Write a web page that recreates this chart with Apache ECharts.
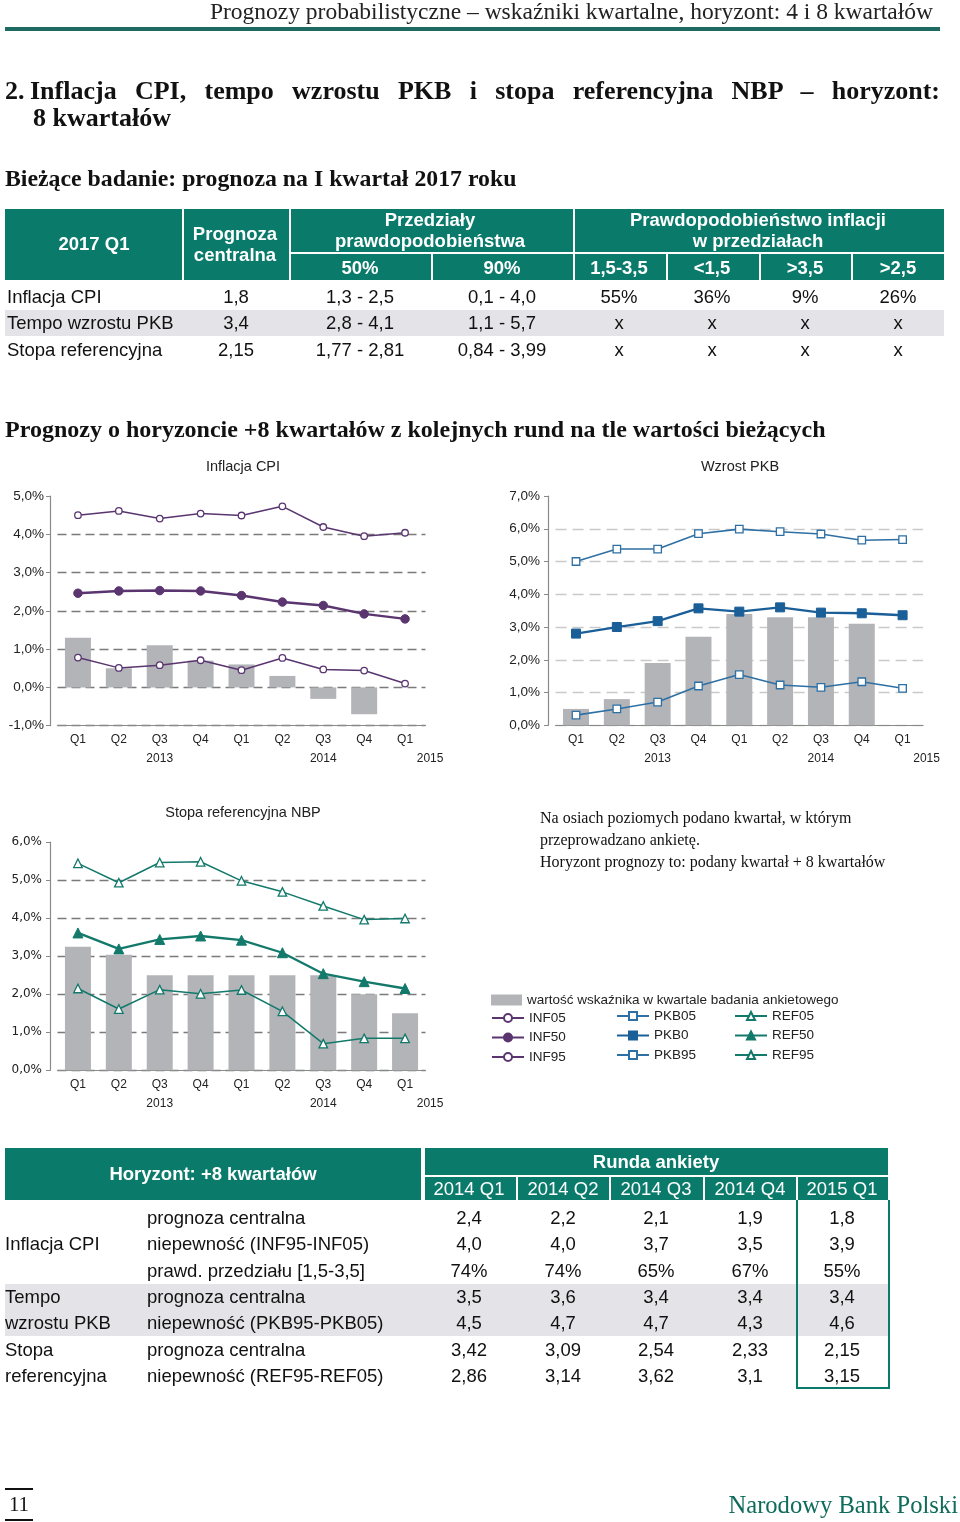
<!DOCTYPE html>
<html><head><meta charset="utf-8">
<script src="https://cdn.jsdelivr.net/npm/echarts@6/dist/echarts.min.js"></script>
<style>
body{margin:0;width:960px;height:1522px;position:relative;background:#fff;overflow:hidden;font-family:"Liberation Sans",Arial,sans-serif;color:#111}
#chart{position:absolute;left:0;top:0;width:960px;height:1522px;z-index:1}
.t{position:absolute;white-space:nowrap;z-index:2;line-height:1}
.box{position:absolute;z-index:0}
</style></head>
<body>
<div id="chart"></div>
<div id="layer"></div>
<script>
// ---------- data ----------
const quarters = ['Q1','Q2','Q3','Q4','Q1','Q2','Q3','Q4','Q1'];
const years = ['','','2013','','','','2014','','2015'];
const BAR = 'wartość wskaźnika w kwartale badania ankietowego';

const infBars = [1.3, 0.5, 1.1, 0.7, 0.6, 0.3, -0.3, -0.7, null];
const inf95 = [4.50, 4.61, 4.41, 4.54, 4.49, 4.73, 4.19, 3.95, 4.04];
const inf50 = [2.46, 2.52, 2.53, 2.52, 2.40, 2.23, 2.14, 1.92, 1.79];
const inf05 = [0.78, 0.51, 0.58, 0.71, 0.45, 0.77, 0.47, 0.44, 0.10];

const gdpBars = [0.5, 0.8, 1.9, 2.7, 3.4, 3.3, 3.3, 3.1, null];
const pkb95 = [5.00, 5.38, 5.38, 5.85, 5.99, 5.91, 5.84, 5.65, 5.67];
const pkb50 = [2.80, 3.00, 3.18, 3.57, 3.47, 3.60, 3.44, 3.42, 3.36];
const pkb05 = [0.31, 0.50, 0.71, 1.20, 1.55, 1.23, 1.16, 1.33, 1.13];

const refBars = [3.25, 3.04, 2.5, 2.5, 2.5, 2.5, 2.5, 2.0, 1.5];
const ref95 = [5.44, 4.93, 5.46, 5.48, 4.98, 4.69, 4.32, 3.96, 3.99];
const ref50 = [3.61, 3.19, 3.44, 3.53, 3.42, 3.09, 2.54, 2.33, 2.15];
const ref05 = [2.15, 1.61, 2.12, 2.01, 2.11, 1.55, 0.70, 0.84, 0.84];

// top table
const t1Rows = ['Inflacja CPI', 'Tempo wzrostu PKB', 'Stopa referencyjna'];
const t1Central = ['1,8', '3,4', '2,15'];
const t1P50 = ['1,3 - 2,5', '2,8 - 4,1', '1,77 - 2,81'];
const t1P90 = ['0,1 - 4,0', '1,1 - 5,7', '0,84 - 3,99'];
const t1ProbHeads = ['1,5-3,5', '<1,5', '>3,5', '>2,5'];
const t1Prob = [['55%','36%','9%','26%'], ['x','x','x','x'], ['x','x','x','x']];

// bottom table
const rounds = ['2014 Q1','2014 Q2','2014 Q3','2014 Q4','2015 Q1'];
const t2Group = ['', 'Inflacja CPI', '', 'Tempo', 'wzrostu PKB', 'Stopa', 'referencyjna'];
const t2Desc = ['prognoza centralna','niepewność (INF95-INF05)','prawd. przedziału [1,5-3,5]',
  'prognoza centralna','niepewność (PKB95-PKB05)','prognoza centralna','niepewność (REF95-REF05)'];
const t2Vals = [
  ['2,4','2,2','2,1','1,9','1,8'],
  ['4,0','4,0','3,7','3,5','3,9'],
  ['74%','74%','65%','67%','55%'],
  ['3,5','3,6','3,4','3,4','3,4'],
  ['4,5','4,7','4,7','4,3','4,6'],
  ['3,42','3,09','2,54','2,33','2,15'],
  ['2,86','3,14','3,62','3,1','3,15']
];

// ---------- HTML text & tables ----------
const G = '#0a7a6b';
const layer = document.getElementById('layer');
function txt(s, x, y, css, align) {
  const d = document.createElement('div');
  d.className = 't';
  d.textContent = s;
  d.style.cssText += css || '';
  d.style.left = x + 'px'; d.style.top = y + 'px';
  const tx = align === 'c' ? '-50%' : (align === 'r' ? '-100%' : '0');
  d.style.transform = 'translate(' + tx + ',-50%)';
  layer.appendChild(d);
  return d;
}
function box(x, y, w, h, css) {
  const d = document.createElement('div');
  d.className = 'box';
  d.style.cssText = 'left:' + x + 'px;top:' + y + 'px;width:' + w + 'px;height:' + h + 'px;' + css;
  layer.appendChild(d);
}
const SERIF = 'font-family:"Liberation Serif","DejaVu Serif",serif;';

// page header
txt('Prognozy probabilistyczne – wskaźniki kwartalne, horyzont: 4 i 8 kwartałów', 933, 12, SERIF + 'font-size:23.5px;color:#222;', 'r');
box(5, 27, 935, 4, 'background:#1d6b60;');

// heading
txt('2.', 5, 91, SERIF + 'font-size:26px;font-weight:bold;color:#111;');
(function(){
  const d = document.createElement('div');
  d.className = 't';
  d.style.cssText = SERIF + 'font-size:26px;font-weight:bold;color:#111;left:30px;top:78px;width:910px;text-align:justify;text-align-last:justify;white-space:normal;';
  d.textContent = 'Inflacja CPI, tempo wzrostu PKB i stopa referencyjna NBP – horyzont:';
  layer.appendChild(d);
})();
txt('8 kwartałów', 33, 118, SERIF + 'font-size:26px;font-weight:bold;color:#111;');
txt('Bieżące badanie: prognoza na I kwartał 2017 roku', 5, 179, SERIF + 'font-size:23.8px;font-weight:bold;color:#111;');

// top table
box(5, 209, 939, 71, 'background:' + G + ';');
[182, 289, 573].forEach(x => box(x, 209, 2, 71, 'background:#fff;'));
[431, 666, 759, 851].forEach(x => box(x, 253, 2, 27, 'background:#fff;'));
box(290, 252, 654, 2, 'background:#fff;');
const HW = 'color:#fff;font-weight:bold;font-size:18.5px;';
txt('2017 Q1', 94, 244, HW, 'c');
txt('Prognoza', 235, 234, HW, 'c');
txt('centralna', 235, 255, HW, 'c');
txt('Przedziały', 430, 220, HW, 'c');
txt('prawdopodobieństwa', 430, 241, HW, 'c');
txt('Prawdopodobieństwo inflacji', 758, 220, HW, 'c');
txt('w przedziałach', 758, 241, HW, 'c');
txt('50%', 360, 268, HW, 'c');
txt('90%', 502, 268, HW, 'c');
const probX = [619, 712, 805, 898];
t1ProbHeads.forEach((s, i) => txt(s, probX[i], 268, HW, 'c'));
box(5, 310, 939, 26, 'background:#e4e4e8;');
const rowY1 = [297, 323, 350];
const BW = 'color:#111;font-size:18.5px;';
t1Rows.forEach((s, i) => {
  txt(s, 7, rowY1[i], BW);
  txt(t1Central[i], 236, rowY1[i], BW, 'c');
  txt(t1P50[i], 360, rowY1[i], BW, 'c');
  txt(t1P90[i], 502, rowY1[i], BW, 'c');
  t1Prob[i].forEach((v, j) => txt(v, probX[j], rowY1[i], BW, 'c'));
});

// section heading
txt('Prognozy o horyzoncie +8 kwartałów z kolejnych rund na tle wartości bieżących', 5, 429, SERIF + 'font-size:24px;font-weight:bold;color:#111;');

// note
const NOTE = SERIF + 'font-size:16px;color:#111;';
txt('Na osiach poziomych podano kwartał, w którym', 540, 818, NOTE);
txt('przeprowadzano ankietę.', 540, 840, NOTE);
txt('Horyzont prognozy to: podany kwartał + 8 kwartałów', 540, 862, NOTE);

// bottom table
box(5, 1148, 416, 52, 'background:' + G + ';');
box(425, 1148, 463, 52, 'background:' + G + ';');
box(425, 1175, 463, 2, 'background:#fff;');
[516, 609, 703, 796].forEach(x => box(x, 1177, 2, 23, 'background:#fff;'));
txt('Horyzont: +8 kwartałów', 213, 1174, HW + 'font-size:18.5px;', 'c');
txt('Runda ankiety', 656, 1162, HW + 'font-size:18.5px;', 'c');
const colX = [469, 563, 656, 750, 842];
rounds.forEach((s, i) => txt(s, colX[i], 1189, 'color:#fff;font-size:18.5px;', 'c'));
box(5, 1284, 883, 52, 'background:#e4e4e8;');
box(796, 1200, 90, 187, 'border:2px solid ' + G + ';border-top:none;');
const rowY2 = [1218, 1244, 1271, 1297, 1323, 1350, 1376];
const BW2 = 'color:#111;font-size:18.5px;';
rowY2.forEach((y, i) => {
  if (t2Group[i]) txt(t2Group[i], 5, y, BW2);
  txt(t2Desc[i], 147, y, BW2);
  t2Vals[i].forEach((v, j) => txt(v, colX[j], y, BW2, 'c'));
});

// footer
box(5, 1488, 28, 1.5, 'background:#111;');
box(5, 1519, 28, 1.5, 'background:#111;');
txt('11', 19, 1504, SERIF + 'font-size:21px;color:#111;', 'c');
txt('Narodowy Bank Polski', 958, 1505, SERIF + 'font-size:24.6px;color:#0f6b5a;', 'r');

// ---------- charts ----------
const FONT = '"Liberation Sans", Arial, sans-serif';
const fmt = v => v.toFixed(1).replace('.', ',') + '%';
const PUR = '#5a3570', BLU = '#1b5f98', BLU2 = '#2e70a4', TEA = '#12796b';
const BARC = '#b2b4b8';

const grids = [
  {left: 57.5, top: 496, width: 368, height: 229.7},
  {left: 555.6, top: 496, width: 367.4, height: 229.3},
  {left: 57.5, top: 842, width: 368, height: 228.3}
];
const yearShift = [25, 24, 25];
const xAxes = [], yAxes = [];
const yCfg = [
  {min: -1, max: 5, off: 7.5, split: '#7a7a7a', dash: [9, 5], font: FONT, fs: 13.5, margin: 6},
  {min: 0, max: 7, off: 7.6, split: '#c9c9c9', dash: [11, 6], font: FONT, fs: 13.5, margin: 8},
  {min: 0, max: 6, off: 7.5, split: '#7a7a7a', dash: [9, 5], font: '"DejaVu Sans", sans-serif', fs: 12, margin: 8}
];
grids.forEach((g, i) => {
  xAxes.push({
    type: 'category', gridIndex: i, data: quarters, boundaryGap: true,
    axisLine: {onZero: false, lineStyle: {color: '#8a8a8a', width: 1.2}},
    axisTick: {show: false},
    axisLabel: {interval: 0, margin: 8, fontFamily: FONT, fontSize: 12, color: '#222'},
    splitLine: {show: false}
  });
  xAxes.push({
    type: 'category', gridIndex: i, data: years, position: 'bottom', offset: 19,
    axisLine: {show: false}, axisTick: {show: false},
    axisLabel: {
      interval: 0, margin: 8, fontFamily: FONT, fontSize: 12, color: '#222',
      formatter: (v, idx) => idx === 8 ? '{s|' + v + '}' : v,
      rich: {s: {fontFamily: FONT, fontSize: 12, color: '#222', padding: [0, 0, 0, yearShift[i] * 2]}}
    }
  });
  const c = yCfg[i];
  yAxes.push({
    type: 'value', gridIndex: i, min: c.min, max: c.max, interval: 1, offset: c.off,
    axisLine: {show: true, lineStyle: {color: '#8a8a8a', width: 1.2}},
    axisTick: {show: true, length: 4, lineStyle: {color: '#8a8a8a'}},
    axisLabel: {formatter: fmt, fontFamily: c.font, fontSize: c.fs, color: '#222', margin: c.margin},
    splitLine: {show: true, showMaxLine: false, lineStyle: {color: c.split, type: c.dash, width: 1.3}}
  });
});

function bar(data, i) {
  return {name: BAR, type: 'bar', xAxisIndex: 2 * i, yAxisIndex: i, data: data,
    barWidth: 26, itemStyle: {color: BARC}, z: 1};
}
function line(name, data, i, color, symbol, size, filled, width) {
  return {name: name, type: 'line', xAxisIndex: 2 * i, yAxisIndex: i, data: data,
    symbol: symbol, symbolSize: size, showAllSymbol: true,
    lineStyle: {color: color, width: width},
    itemStyle: filled ? {color: color, borderColor: color, borderWidth: 1}
                      : {color: '#fff', borderColor: color, borderWidth: 1.3},
    z: 3};
}

const series = [
  bar(infBars, 0),
  line('INF95', inf95, 0, PUR, 'circle', 6.5, false, 1.5),
  line('INF50', inf50, 0, PUR, 'circle', 8.5, true, 2.4),
  line('INF05', inf05, 0, PUR, 'circle', 6.5, false, 1.5),
  bar(gdpBars, 1),
  line('PKB95', pkb95, 1, BLU2, 'rect', 7.5, false, 1.6),
  line('PKB0', pkb50, 1, BLU, 'rect', 9, true, 2.3),
  line('PKB05', pkb05, 1, BLU2, 'rect', 7.5, false, 1.6),
  bar(refBars, 2),
  line('REF95', ref95, 2, TEA, 'triangle', 8.5, false, 1.5),
  line('REF50', ref50, 2, TEA, 'triangle', 10, true, 2.3),
  line('REF05', ref05, 2, TEA, 'triangle', 8.5, false, 1.5)
];

const LT = {fontFamily: FONT, fontSize: 13.5, color: '#222'};
function leg(data, left, top) {
  return {data: data, left: left, top: top, orient: 'vertical', itemGap: 5.5,
    itemWidth: 32, itemHeight: 10, textStyle: LT, padding: 0, selectedMode: false};
}

const option = {
  animation: false,
  title: [
    {text: 'Inflacja CPI', left: 243, top: 459, textAlign: 'center', padding: 0,
     textStyle: {fontFamily: FONT, fontSize: 14.5, fontWeight: 'normal', color: '#222'}},
    {text: 'Wzrost PKB', left: 740, top: 459, textAlign: 'center', padding: 0,
     textStyle: {fontFamily: FONT, fontSize: 14.5, fontWeight: 'normal', color: '#222'}},
    {text: 'Stopa referencyjna NBP', left: 243, top: 805, textAlign: 'center', padding: 0,
     textStyle: {fontFamily: FONT, fontSize: 14.5, fontWeight: 'normal', color: '#222'}}
  ],
  grid: grids,
  xAxis: xAxes,
  yAxis: yAxes,
  legend: [
    {data: [{name: BAR, icon: 'rect'}], left: 491, top: 993, itemWidth: 31, itemHeight: 11,
     textStyle: LT, padding: 0, selectedMode: false},
    leg(['INF05', 'INF50', 'INF95'], 491, 1011),
    leg(['PKB05', 'PKB0', 'PKB95'], 616, 1009),
    leg(['REF05', 'REF50', 'REF95'], 734, 1009)
  ],
  series: series
};
const chart = echarts.init(document.getElementById('chart'), null, {renderer: 'canvas'});
chart.setOption(option);
</script>
</body></html>
